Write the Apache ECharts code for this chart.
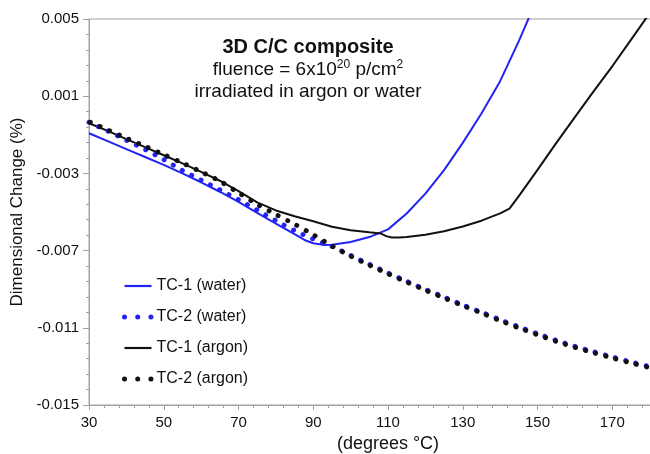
<!DOCTYPE html>
<html>
<head>
<meta charset="utf-8">
<script src="https://cdn.jsdelivr.net/npm/echarts@6/dist/echarts.min.js"></script>
<style>
html,body{margin:0;padding:0;background:#fff;}
#chart{width:650px;height:454px;}
</style>
</head>
<body>
<div id="chart"></div>
<script>
// ---- data ----
var xTicks = [30, 50, 70, 90, 110, 130, 150, 170];
var yTicks = [-0.015, -0.011, -0.007, -0.003, 0.001, 0.005];

var tc1WaterT = [30,35,40,45,50,55,60,65,70,75,80,85,88,90,93,95,100,105,110,115,120,125,130,135,140,145,150];
var tc1WaterV = [-0.00092,-0.00133,-0.00174,-0.00215,-0.00256,-0.00300,-0.00346,-0.00395,-0.00447,-0.00505,-0.00560,-0.00615,-0.00648,-0.00662,-0.00671,-0.00670,-0.00655,-0.00630,-0.00590,-0.00508,-0.00405,-0.00283,-0.00142,0.00010,0.00178,0.00385,0.00610];

var tc1ArgonT = [30,35,40,45,50,55,60,65,70,75,80,85,90,95,100,105,108,109.5,111,113,115,120,125,130,135,140,142.5,145,150,155,160,165,170,175,180];
var tc1ArgonV = [-0.00040,-0.00080,-0.00122,-0.00164,-0.00206,-0.00248,-0.00292,-0.00338,-0.00392,-0.00450,-0.00492,-0.00522,-0.00548,-0.00576,-0.00594,-0.00605,-0.00611,-0.00625,-0.00632,-0.00632,-0.00630,-0.00618,-0.00600,-0.00575,-0.00545,-0.00507,-0.00482,-0.00418,-0.00282,-0.00143,-0.00008,0.00125,0.00255,0.00392,0.00530];

var tc2T = [30,35,40,45,50,55,60,65,70,75,80,85,90,95,100,105,110,115,120,125,130,135,140,145,150,155,160,165,170,175,180];
var tc2WaterV = [-0.00035,-0.00080,-0.00128,-0.00176,-0.00228,-0.00285,-0.00335,-0.00385,-0.00436,-0.00490,-0.00545,-0.00596,-0.00640,-0.00678,-0.00725,-0.00771,-0.00816,-0.00859,-0.00901,-0.00941,-0.00981,-0.01019,-0.01058,-0.01095,-0.01131,-0.01165,-0.01196,-0.01224,-0.01251,-0.01277,-0.01301];
var tc2ArgonV = [-0.00032,-0.00075,-0.00118,-0.00160,-0.00203,-0.00246,-0.00292,-0.00340,-0.00400,-0.00460,-0.00513,-0.00563,-0.00618,-0.00676,-0.00728,-0.00775,-0.00820,-0.00863,-0.00905,-0.00945,-0.00985,-0.01023,-0.01063,-0.01100,-0.01136,-0.01170,-0.01201,-0.01229,-0.01256,-0.01282,-0.01306];

var seriesNames = ['TC-1 (water)', 'TC-2 (water)', 'TC-1 (argon)', 'TC-2 (argon)'];

function pairs(t, v) { return t.map(function (x, i) { return [x, v[i]]; }); }

var FONT = '"Liberation Sans", Arial, sans-serif';
var BLUE = '#2323f2';
var BLACK = '#111111';
var AXIS = '#a3a3a3';
var DOT_DASH = [0.01, 10.5];
var LEGEND_DOTS = {type: [0.01, 13.2], width: 5, cap: 'round', dashOffset: 0};

var chart = echarts.init(document.getElementById('chart'), null, {renderer: 'canvas'});
chart.setOption({
  animation: false,
  backgroundColor: '#ffffff',
  textStyle: {fontFamily: FONT},
  title: [
    {text: '3D C/C composite', left: 308, top: 37, textAlign: 'center', padding: 0,
     textStyle: {fontSize: 20, fontWeight: 'bold', color: BLACK, fontFamily: FONT}},
    {text: 'fluence = 6x10{sup|20} p/cm{sup|2}', left: 308, top: 59, textAlign: 'center', padding: 0,
     textStyle: {fontSize: 19, fontWeight: 'normal', color: BLACK, fontFamily: FONT, lineHeight: 22,
       rich: {sup: {fontSize: 12, color: BLACK, fontFamily: FONT, verticalAlign: 'top', lineHeight: 13}}}},
    {text: 'irradiated in argon or water', left: 308, top: 82, textAlign: 'center', padding: 0,
     textStyle: {fontSize: 19, fontWeight: 'normal', color: BLACK, fontFamily: FONT}}
  ],
  grid: {left: 89, right: -37, top: 19, bottom: 49, show: true, borderColor: AXIS, borderWidth: 1,
         backgroundColor: 'transparent', containLabel: false, outerBoundsMode: 'none'},
  legend: {
    orient: 'vertical', left: 122, top: 278, padding: 0, itemWidth: 27, itemHeight: 6, itemGap: 15,
    selectedMode: false,
    textStyle: {fontSize: 16, color: BLACK, fontFamily: FONT},
    itemStyle: {opacity: 0},
    lineStyle: {width: 'inherit'},
    data: [
      {name: seriesNames[0], lineStyle: {width: 2.2}},
      {name: seriesNames[1], lineStyle: LEGEND_DOTS},
      {name: seriesNames[2], lineStyle: {width: 2.2}},
      {name: seriesNames[3], lineStyle: LEGEND_DOTS}
    ]
  },
  xAxis: {
    type: 'value', min: 30, max: 190, interval: 20,
    name: '(degrees \u00B0C)', nameLocation: 'middle', nameGap: 30,
    nameTextStyle: {fontSize: 18, color: BLACK, fontFamily: FONT},
    axisLine: {show: true, onZero: false, lineStyle: {color: AXIS, width: 1}},
    axisTick: {show: true, inside: false, length: 5, lineStyle: {color: AXIS}},
    minorTick: {show: true, splitNumber: 5, length: 3, lineStyle: {color: AXIS}},
    splitLine: {show: false},
    axisLabel: {fontSize: 15, color: BLACK, margin: 10, fontFamily: FONT,
      formatter: function (v) { return xTicks.indexOf(Math.round(v)) >= 0 ? String(Math.round(v)) : ''; }}
  },
  yAxis: {
    type: 'value', min: yTicks[0], max: yTicks[yTicks.length - 1], interval: 0.004,
    name: 'Dimensional Change (%)', nameLocation: 'middle', nameGap: 63, nameRotate: 90,
    nameTextStyle: {fontSize: 17, color: BLACK, fontFamily: FONT},
    axisLine: {show: true, onZero: false, lineStyle: {color: AXIS, width: 1}},
    axisTick: {show: true, inside: false, length: 6, lineStyle: {color: AXIS}},
    minorTick: {show: true, splitNumber: 5, length: 3, lineStyle: {color: AXIS}},
    splitLine: {show: false},
    axisLabel: {fontSize: 15, color: BLACK, margin: 10, fontFamily: FONT,
      formatter: function (v) { return v.toFixed(3); }}
  },
  series: [
    {name: seriesNames[0], type: 'line', data: pairs(tc1WaterT, tc1WaterV), symbol: 'none',
     smooth: false, clip: true,
     itemStyle: {color: BLUE}, lineStyle: {color: BLUE, width: 2}, z: 2},
    {name: seriesNames[2], type: 'line', data: pairs(tc1ArgonT, tc1ArgonV), symbol: 'none', smooth: false, clip: true,
     itemStyle: {color: BLACK}, lineStyle: {color: BLACK, width: 2}, z: 2},
    {name: seriesNames[1], type: 'line', data: pairs(tc2T, tc2WaterV), symbol: 'none',
     smooth: 0.3, clip: true,
     itemStyle: {color: BLUE}, lineStyle: {color: BLUE, width: 5, type: DOT_DASH, cap: 'round'}, z: 3},
    {name: seriesNames[3], type: 'line', data: pairs(tc2T, tc2ArgonV), symbol: 'none',
     smooth: 0.3, clip: true,
     itemStyle: {color: BLACK}, lineStyle: {color: BLACK, width: 5, type: DOT_DASH, cap: 'round', dashOffset: -1.5}, z: 4}
  ]
});
</script>
</body>
</html>
